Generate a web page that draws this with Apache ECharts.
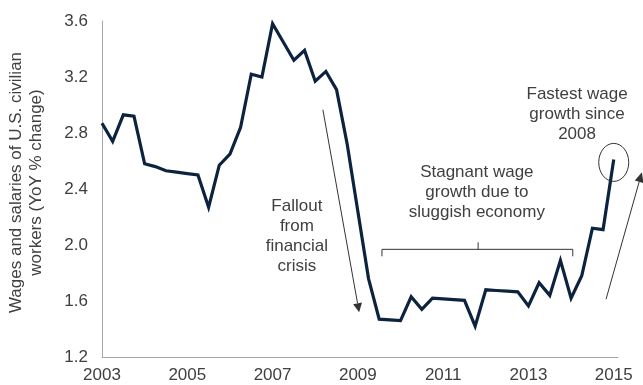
<!DOCTYPE html>
<html>
<head>
<meta charset="utf-8">
<script src="https://cdn.jsdelivr.net/npm/echarts@6/dist/echarts.min.js"></script>
<style>
html,body{margin:0;padding:0;background:#fff;}
#chart{width:643px;height:385px;}
</style>
</head>
<body>
<div id="chart"></div>
<script>
// Quarterly periods, 2003 Q1 – 2015 Q1
var quarters = [
  '2003 Q1','2003 Q2','2003 Q3','2003 Q4',
  '2004 Q1','2004 Q2','2004 Q3','2004 Q4',
  '2005 Q1','2005 Q2','2005 Q3','2005 Q4',
  '2006 Q1','2006 Q2','2006 Q3','2006 Q4',
  '2007 Q1','2007 Q2','2007 Q3','2007 Q4',
  '2008 Q1','2008 Q2','2008 Q3','2008 Q4',
  '2009 Q1','2009 Q2','2009 Q3','2009 Q4',
  '2010 Q1','2010 Q2','2010 Q3','2010 Q4',
  '2011 Q1','2011 Q2','2011 Q3','2011 Q4',
  '2012 Q1','2012 Q2','2012 Q3','2012 Q4',
  '2013 Q1','2013 Q2','2013 Q3','2013 Q4',
  '2014 Q1','2014 Q2','2014 Q3','2014 Q4',
  '2015 Q1'
];

// Wages and salaries, YoY % change
var wageGrowth = [
  2.87, 2.74, 2.93, 2.92,
  2.58, 2.56, 2.53, 2.52,
  2.51, 2.50, 2.27, 2.57,
  2.65, 2.84, 3.22, 3.20,
  3.58, 3.45, 3.32, 3.39,
  3.17, 3.24, 3.11, 2.72,
  2.24, 1.76, 1.47, 1.465,
  1.46, 1.63, 1.54, 1.62,
  1.615, 1.61, 1.605, 1.42,
  1.68, 1.675, 1.67, 1.665,
  1.565, 1.73, 1.64, 1.89,
  1.62, 1.78, 2.12, 2.11,
  2.61
];

var yearTicks = [2003, 2005, 2007, 2009, 2011, 2013, 2015];
var valueTicks = [1.2, 1.6, 2.0, 2.4, 2.8, 3.2, 3.6];

var yAxisTitle = 'Wages and salaries of U.S. civilian\nworkers (YoY % change)';
var noteFallout = 'Fallout\nfrom\nfinancial\ncrisis';
var noteStagnant = 'Stagnant wage\ngrowth due to\nsluggish economy';
var noteFastest = 'Fastest wage\ngrowth since\n2008';

function quarterToYear(q) {
  var parts = q.split(' Q');
  return parseInt(parts[0], 10) + (parseInt(parts[1], 10) - 1) / 4;
}

var seriesData = quarters.map(function (q, i) {
  return [quarterToYear(q), wageGrowth[i]];
});

var FONT = '"Liberation Sans", Arial, sans-serif';
var TEXT = '#404040';
var AXIS = '#a6a6a6';
var INK = '#333333';

var chart = echarts.init(document.getElementById('chart'), null, { renderer: 'canvas' });

chart.setOption({
  animation: false,
  backgroundColor: '#ffffff',
  grid: { left: 102, right: 25, top: 21, bottom: 28, containLabel: false },
  xAxis: {
    type: 'value',
    min: yearTicks[0],
    max: 2015.1,
    interval: 2,
    axisLine: { show: true, lineStyle: { color: AXIS, width: 1 } },
    axisTick: { show: false },
    splitLine: { show: false },
    axisLabel: {
      color: TEXT, fontFamily: FONT, fontSize: 17, margin: 10,
      formatter: function (v) {
        return yearTicks.indexOf(Math.round(v * 1000) / 1000) >= 0 ? String(v) : '';
      }
    }
  },
  yAxis: {
    type: 'value',
    min: valueTicks[0],
    max: valueTicks[valueTicks.length - 1],
    interval: 0.4,
    axisLine: { show: true, lineStyle: { color: AXIS, width: 1 } },
    axisTick: { show: false },
    splitLine: { show: false },
    axisLabel: {
      color: TEXT, fontFamily: FONT, fontSize: 17, margin: 14,
      formatter: function (v) { return v.toFixed(1); }
    }
  },
  series: [{
    type: 'line',
    data: seriesData,
    showSymbol: false,
    lineStyle: { color: '#0c2340', width: 3.2, join: 'miter' },
    z: 3
  }]
});

// Annotation anchors in data coordinates [year, value]
function px(p) { return chart.convertToPixel({ gridIndex: 0 }, p); }

function arrow(from, to, headLen, headW) {
  var a = px(from), b = px(to);
  var dx = b[0] - a[0], dy = b[1] - a[1];
  var len = Math.sqrt(dx * dx + dy * dy);
  var ux = dx / len, uy = dy / len;
  var bx = b[0] - ux * headLen, by = b[1] - uy * headLen;
  var nx = -uy * headW / 2, ny = ux * headW / 2;
  return [
    { type: 'line', shape: { x1: a[0], y1: a[1], x2: bx, y2: by },
      style: { stroke: INK, lineWidth: 1 }, z: 10 },
    { type: 'polygon', shape: { points: [[b[0], b[1]], [bx + nx, by + ny], [bx - nx, by - ny]] },
      style: { fill: INK }, z: 10 }
  ];
}

function note(text, at) {
  var p = px(at);
  return {
    type: 'text', x: p[0], y: p[1], z: 10,
    style: {
      text: text, fill: TEXT, font: '17px ' + FONT, lineHeight: 20,
      align: 'center', verticalAlign: 'middle'
    }
  };
}

var bL = px([2009.565, 1.969]), bR = px([2014.04, 1.969]);
var bEndY = px([2009.565, 1.919])[1];
var bMid = px([2011.82, 1.969]), bMidTop = px([2011.82, 2.019]);
var circ = px([2015.0, 2.59]);

var g = [];
// Vertical axis title
g.push({
  type: 'text', x: 26, y: 182.5, rotation: Math.PI / 2, z: 10,
  style: {
    text: yAxisTitle, fill: TEXT, font: '17px ' + FONT, lineHeight: 20,
    align: 'center', verticalAlign: 'middle'
  }
});
g.push(note(noteFallout, [2007.57, 2.06]));
g.push(note(noteStagnant, [2011.79, 2.375]));
g.push(note(noteFastest, [2014.14, 2.93]));
g = g.concat(arrow([2008.18, 2.966], [2009.03, 1.52], 9, 9));
g = g.concat(arrow([2014.82, 1.613], [2015.66, 2.52], 10, 9));
g.push({
  type: 'polyline', z: 10,
  shape: { points: [[bL[0], bEndY], [bL[0], bL[1]], [bR[0], bR[1]], [bR[0], bEndY]] },
  style: { stroke: INK, lineWidth: 1, fill: null }
});
g.push({
  type: 'line', z: 10,
  shape: { x1: bMid[0], y1: bMid[1], x2: bMidTop[0], y2: bMidTop[1] },
  style: { stroke: INK, lineWidth: 1 }
});
g.push({
  type: 'ellipse', z: 10,
  shape: { cx: circ[0], cy: circ[1], rx: 15, ry: 19 },
  style: { stroke: INK, lineWidth: 1, fill: null }
});

chart.setOption({ graphic: g });
</script>
</body>
</html>
